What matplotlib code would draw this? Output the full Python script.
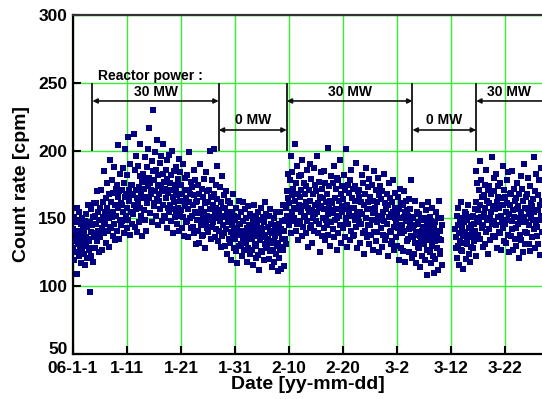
import numpy as np
import matplotlib
matplotlib.use("Agg")
import matplotlib.pyplot as plt
import matplotlib.transforms as mtransforms

plt.rcParams['font.family'] = ['Liberation Sans', 'DejaVu Sans']
plt.rcParams['font.weight'] = 'bold'

# count rate [cpm], 12 readings a day (every 2 h), starting 2006-01-01
daily_counts = [
    [128, 142, 119, 151, 133, 140, 125, 147, 137, 109, 158, 131],
    [141, 122, 155, 134, 129, 146, 117, 138, 150, 127, 143, 132],
    [124, 139, 148, 116, 136, 153, 130, 121, 144, 135, 160, 127],
    [133, 96, 147, 122, 140, 157, 128, 145, 118, 151, 136, 161],
    [139, 152, 128, 161, 146, 133, 170, 141, 155, 125, 149, 138],
    [158, 136, 149, 171, 143, 127, 162, 151, 139, 185, 146, 155],
    [147, 165, 132, 158, 176, 141, 153, 129, 168, 150, 193, 144],
    [162, 143, 178, 151, 137, 169, 155, 188, 146, 160, 134, 172],
    [152, 175, 141, 166, 204, 158, 135, 170, 149, 183, 161, 145],
    [171, 148, 160, 187, 155, 139, 176, 166, 201, 152, 168, 143],
    [158, 182, 210, 149, 171, 163, 138, 190, 155, 175, 167, 146],
    [175, 153, 168, 212, 160, 186, 144, 171, 196, 157, 165, 140],
    [162, 189, 147, 173, 158, 181, 205, 152, 169, 137, 177, 165],
    [183, 156, 172, 195, 149, 166, 178, 141, 188, 161, 174, 201],
    [165, 217, 180, 154, 176, 171, 168, 192, 147, 230, 185, 159],
    [178, 161, 199, 170, 152, 186, 164, 208, 175, 145, 182, 168],
    [163, 191, 157, 174, 196, 148, 170, 183, 160, 205, 152, 177],
    [172, 150, 186, 165, 143, 179, 193, 158, 169, 197, 155, 176],
    [160, 182, 148, 171, 200, 157, 166, 139, 185, 162, 175, 151],
    [170, 155, 188, 146, 167, 179, 158, 194, 141, 163, 184, 152],
    [156, 175, 143, 168, 190, 151, 163, 137, 180, 159, 171, 147],
    [165, 148, 182, 157, 136, 171, 162, 199, 150, 168, 143, 177],
    [152, 173, 144, 160, 186, 139, 167, 155, 178, 131, 162, 149],
    [163, 141, 175, 154, 132, 168, 149, 190, 157, 145, 172, 137],
    [150, 166, 138, 179, 155, 128, 161, 147, 184, 152, 170, 143],
    [162, 140, 171, 149, 200, 157, 135, 166, 151, 178, 144, 160],
    [147, 168, 201, 153, 136, 175, 158, 142, 164, 189, 150, 133],
    [156, 141, 173, 148, 129, 162, 152, 181, 137, 158, 145, 167],
    [139, 158, 130, 151, 170, 142, 124, 155, 147, 163, 135, 149],
    [150, 132, 161, 140, 119, 155, 145, 136, 168, 141, 128, 152],
    [135, 149, 126, 158, 143, 117, 151, 138, 163, 130, 146, 140],
    [146, 131, 155, 122, 141, 162, 135, 148, 127, 139, 157, 133],
    [132, 150, 118, 143, 136, 159, 128, 145, 140, 124, 153, 137],
    [144, 127, 152, 135, 116, 148, 139, 160, 131, 142, 121, 150],
    [130, 146, 137, 155, 123, 141, 112, 149, 134, 158, 126, 143],
    [142, 125, 151, 136, 119, 147, 131, 162, 138, 128, 153, 133],
    [129, 144, 135, 120, 152, 140, 126, 157, 132, 146, 114, 139],
    [141, 127, 150, 133, 118, 145, 137, 124, 155, 130, 143, 111],
    [132, 146, 121, 139, 155, 127, 142, 113, 148, 135, 160, 129],
    [127, 141, 115, 135, 149, 131, 158, 170, 152, 183, 148, 165],
    [161, 145, 178, 152, 196, 139, 167, 155, 184, 148, 172, 158],
    [150, 205, 163, 141, 176, 157, 189, 146, 168, 134, 181, 160],
    [166, 148, 182, 155, 171, 137, 193, 159, 144, 176, 152, 168],
    [151, 174, 139, 162, 186, 148, 158, 129, 171, 155, 190, 143],
    [163, 145, 179, 156, 132, 168, 150, 187, 141, 160, 175, 153],
    [148, 170, 155, 196, 139, 161, 177, 146, 158, 125, 166, 184],
    [159, 137, 172, 150, 165, 185, 143, 157, 176, 134, 162, 149],
    [145, 168, 202, 153, 138, 174, 158, 130, 163, 181, 147, 156],
    [161, 142, 176, 154, 189, 136, 165, 149, 172, 157, 127, 180],
    [150, 178, 139, 163, 152, 193, 145, 168, 132, 159, 174, 155],
    [164, 143, 157, 182, 136, 171, 150, 201, 147, 160, 129, 175],
    [146, 169, 153, 134, 178, 158, 141, 186, 152, 165, 137, 172],
    [158, 138, 174, 149, 163, 191, 144, 155, 128, 170, 151, 166],
    [147, 171, 155, 132, 162, 146, 182, 153, 139, 176, 160, 124],
    [160, 141, 168, 150, 187, 136, 157, 173, 145, 162, 131, 179],
    [145, 166, 138, 157, 175, 149, 127, 163, 154, 185, 140, 158],
    [156, 133, 171, 147, 162, 140, 180, 152, 125, 167, 149, 174],
    [143, 164, 152, 129, 170, 155, 138, 183, 148, 161, 134, 158],
    [157, 137, 168, 146, 122, 160, 151, 176, 140, 165, 131, 153],
    [141, 162, 133, 155, 178, 144, 127, 158, 150, 169, 136, 147],
    [154, 130, 166, 143, 157, 119, 150, 172, 139, 161, 128, 145],
    [139, 160, 126, 151, 170, 141, 155, 118, 148, 163, 133, 156],
    [152, 135, 164, 142, 125, 157, 146, 178, 137, 150, 121, 143],
    [136, 151, 124, 145, 163, 132, 140, 117, 155, 138, 147, 129],
    [146, 128, 153, 137, 114, 149, 133, 160, 141, 122, 144, 135],
    [131, 150, 138, 119, 156, 142, 127, 147, 108, 139, 162, 134],
    [144, 125, 151, 136, 117, 148, 130, 158, 139, 122, 143, 110],
    [133, 147, 120, 141, 155, 128, 138, 112, 150, 135, 163, 126],
    [141, 124, 150, 134, 116, 145, None, None, None, None, None, None],
    [None] * 12,
    [None] * 10 + [142, 128],
    [136, 152, 121, 145, 130, 158, 139, 116, 148, 133, 162, 127],
    [144, 126, 150, 137, 113, 147, 132, 155, 140, 120, 153, 135],
    [131, 149, 138, 160, 124, 143, 136, 118, 151, 129, 145, 140],
    [137, 152, 128, 146, 133, 157, 141, 122, 162, 185, 150, 176],
    [156, 138, 171, 147, 192, 135, 160, 151, 178, 143, 166, 129],
    [145, 167, 153, 131, 175, 158, 140, 186, 149, 163, 124, 171],
    [161, 142, 174, 150, 134, 168, 155, 195, 146, 159, 137, 180],
    [148, 170, 136, 157, 183, 145, 162, 128, 174, 151, 166, 140],
    [158, 139, 176, 152, 127, 165, 147, 189, 143, 160, 133, 171],
    [146, 166, 155, 132, 178, 149, 161, 138, 184, 153, 125, 168],
    [160, 137, 169, 148, 185, 142, 156, 127, 172, 151, 163, 135],
    [143, 165, 130, 157, 176, 146, 159, 121, 168, 150, 138, 181],
    [155, 134, 172, 147, 125, 163, 151, 190, 140, 158, 131, 166],
    [147, 168, 139, 157, 180, 131, 153, 145, 174, 126, 161, 150],
    [159, 136, 164, 149, 195, 142, 155, 128, 170, 146, 183, 137],
    [144, 167, 131, 156, 178, 149, 123, 160, 152, 187, 140, 163],
]

tick_days = [0, 10, 20, 30, 40, 50, 60, 70, 80]
tick_labels = ['06-1-1', '1-11', '1-21', '1-31', '2-10', '2-20', '3-2', '3-12', '3-22']

# reactor power periods
switch_days = [3.6, 27.0, 39.6, 62.9, 74.7]
power_labels = ['30 MW', '0 MW', '30 MW', '0 MW', '30 MW']

counts = np.array(daily_counts, dtype=float)
per_day = counts.shape[1]
days = np.arange(counts.shape[0])[:, None] + np.arange(per_day)[None, :] / per_day

fig = plt.figure(figsize=(5.42, 3.99), dpi=100)
ax = fig.add_axes([73 / 542, 45 / 399, 469 / 542, 339 / 399])

ax.plot(days.ravel(), counts.ravel(), 's', color='#000080', ms=4.2, mew=0, zorder=3)

x_max = 86.9
ax.set_xlim(0, x_max)
ax.set_ylim(50, 300)
ax.set_xticks(tick_days)
ax.set_xticklabels(tick_labels)
ax.set_yticks(range(50, 301, 50))

ax.grid(True, color='#33ee33', lw=1.0)
ax.set_axisbelow(True)

ax.spines['right'].set_visible(False)
ax.spines['top'].set_color('#333333')
for s in ['top', 'left', 'bottom']:
    ax.spines[s].set_linewidth(1.6)
ax.tick_params(direction='in', length=6, width=1.5, labelsize=12.5, pad=4,
               top=False, right=False)
ax.tick_params(axis='x', pad=5)

# lift the lowest y label a little so it clears the first date label
lift = mtransforms.ScaledTranslation(0, 4 / 72, fig.dpi_scale_trans)
first = ax.get_yticklabels()[0]
first.set_transform(first.get_transform() + lift)

ax.set_xlabel('Date [yy-mm-dd]', fontsize=14, fontweight='bold', labelpad=0)
ax.set_ylabel('Count rate [cpm]', fontsize=14, fontweight='bold', labelpad=6)

# reactor power annotations
ax.vlines(switch_days, 200, 250, color='#222222', lw=1.4, zorder=4)
ax.text(14.4, 255.2, 'Reactor power :', ha='center', va='center', fontsize=10)
for i, label in enumerate(power_labels):
    start = switch_days[i]
    end = switch_days[i + 1] if i + 1 < len(switch_days) else 92
    on = label.startswith('30')
    y_arrow = 236.6 if on else 215.2
    y_text = 243.0 if on else 222.2
    style = '<|-|>' if end < x_max else '<|-'
    ax.annotate('', xy=(end, y_arrow), xytext=(start, y_arrow),
                annotation_clip=False,
                arrowprops=dict(arrowstyle=style, color='#111111', lw=1.2,
                                mutation_scale=7, shrinkA=0, shrinkB=0))
    ax.text((start + min(end, x_max)) / 2, y_text, label, ha='center',
            va='center', fontsize=10)

fig.savefig('out.png', dpi=100)
